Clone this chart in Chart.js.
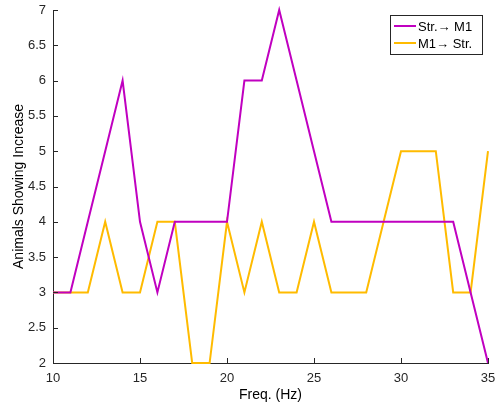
<!DOCTYPE html>
<html>
<head>
<meta charset="utf-8">
<script src="https://cdn.jsdelivr.net/npm/chart.js@4/dist/chart.umd.min.js"></script>
<style>
  html, body { margin: 0; padding: 0; background: #fff; }
  #wrap { width: 497px; height: 412px; }
</style>
</head>
<body>
<div id="wrap"><canvas id="freq-chart" width="497" height="412"></canvas></div>
<script>
var freqs = [10, 11, 12, 13, 14, 15, 16, 17, 18, 19, 20, 21, 22, 23, 24, 25, 26, 27, 28, 29, 30, 31, 32, 33, 34, 35];
var strToM1 = [3, 3, 4, 5, 6, 4, 3, 4, 4, 4, 4, 6, 6, 7, 6, 5, 4, 4, 4, 4, 4, 4, 4, 4, 3, 2];
var m1ToStr = [3, 3, 3, 4, 3, 3, 4, 4, 2, 2, 4, 3, 4, 3, 3, 4, 3, 3, 3, 4, 5, 5, 5, 3, 3, 5];
var seriesNames = ['Str.\u2192 M1', 'M1\u2192 Str.'];
var seriesColors = ['#c000c0', '#ffbb00'];
var xTicks = [10, 15, 20, 25, 30, 35];
var yTicks = [2, 2.5, 3, 3.5, 4, 4.5, 5, 5.5, 6, 6.5, 7];

var axisColor = '#262626';
var fontFamily = "'Liberation Sans', Arial, sans-serif";

function toPoints(ys) {
  return freqs.map(function (f, i) { return { x: f, y: ys[i] }; });
}

// inward tick marks along the two axes
var innerTicks = {
  id: 'innerTicks',
  afterDraw: function (chart) {
    var ctx = chart.ctx;
    var area = chart.chartArea;
    var xs = chart.scales.x, ys = chart.scales.y;
    ctx.save();
    ctx.strokeStyle = axisColor;
    ctx.lineWidth = 1;
    ctx.beginPath();
    xTicks.forEach(function (v) {
      var px = Math.round(xs.getPixelForValue(v)) + 0.5;
      ctx.moveTo(px, area.bottom);
      ctx.lineTo(px, area.bottom - 5);
    });
    yTicks.forEach(function (v) {
      var py = Math.round(ys.getPixelForValue(v)) + 0.5;
      ctx.moveTo(area.left, py);
      ctx.lineTo(area.left + 5, py);
    });
    ctx.stroke();
    ctx.restore();
  }
};

// boxed legend in the upper right corner
var boxLegend = {
  id: 'boxLegend',
  afterDraw: function (chart) {
    var ctx = chart.ctx;
    var area = chart.chartArea;
    var right = area.right - 6, top = area.top + 5;
    var w = 92, h = 39;
    var left = right - w;
    ctx.save();
    ctx.fillStyle = '#fff';
    ctx.fillRect(left, top, w, h);
    ctx.strokeStyle = axisColor;
    ctx.lineWidth = 1;
    ctx.strokeRect(left + 0.5, top + 0.5, w, h);
    ctx.font = '13px ' + fontFamily;
    ctx.textBaseline = 'middle';
    chart.data.datasets.forEach(function (ds, i) {
      var y = top + 11 + i * 17;
      ctx.strokeStyle = ds.borderColor;
      ctx.lineWidth = 2;
      ctx.beginPath();
      ctx.moveTo(left + 4, y);
      ctx.lineTo(left + 26, y);
      ctx.stroke();
      ctx.fillStyle = '#000';
      ctx.fillText(ds.label, left + 28, y + 1);
    });
    ctx.restore();
  }
};

new Chart(document.getElementById('freq-chart'), {
  type: 'line',
  data: {
    datasets: [
      {
        label: seriesNames[0],
        data: toPoints(strToM1),
        borderColor: seriesColors[0],
        borderWidth: 2,
        pointRadius: 0,
        tension: 0,
        fill: false,
        clip: false
      },
      {
        label: seriesNames[1],
        data: toPoints(m1ToStr),
        borderColor: seriesColors[1],
        borderWidth: 2,
        pointRadius: 0,
        tension: 0,
        fill: false,
        clip: false
      }
    ]
  },
  options: {
    responsive: false,
    animation: false,
    devicePixelRatio: 1,
    layout: { padding: { left: 0, right: 9, top: 10, bottom: 0 } },
    plugins: {
      legend: { display: false },
      tooltip: { enabled: false }
    },
    scales: {
      x: {
        type: 'linear',
        min: 10,
        max: 35,
        afterBuildTicks: function (scale) {
          scale.ticks = xTicks.map(function (v) { return { value: v }; });
        },
        afterFit: function (scale) {
          scale.height = 49;
          scale.paddingLeft = 0;
          scale.paddingRight = 0;
        },
        grid: { display: false, drawTicks: false },
        border: { display: true, color: axisColor, width: 1 },
        ticks: {
          color: axisColor,
          font: { family: fontFamily, size: 13 },
          padding: 8,
          maxRotation: 0
        },
        title: {
          display: true,
          text: 'Freq. (Hz)',
          color: '#000',
          font: { family: fontFamily, size: 14 },
          padding: { top: 0, bottom: 8 }
        }
      },
      y: {
        type: 'linear',
        min: 2,
        max: 7,
        afterBuildTicks: function (scale) {
          scale.ticks = yTicks.map(function (v) { return { value: v }; });
        },
        afterFit: function (scale) {
          scale.width = 53;
          scale.paddingTop = 0;
          scale.paddingBottom = 0;
        },
        grid: { display: false, drawTicks: false },
        border: { display: true, color: axisColor, width: 1 },
        ticks: {
          color: axisColor,
          font: { family: fontFamily, size: 13 },
          padding: 7,
          callback: function (v) { return String(v); }
        },
        title: {
          display: true,
          text: 'Animals Showing Increase',
          color: '#000',
          font: { family: fontFamily, size: 14 },
          padding: { top: 11, bottom: 0 }
        }
      }
    }
  },
  plugins: [innerTicks, boxLegend]
});
</script>
</body>
</html>
